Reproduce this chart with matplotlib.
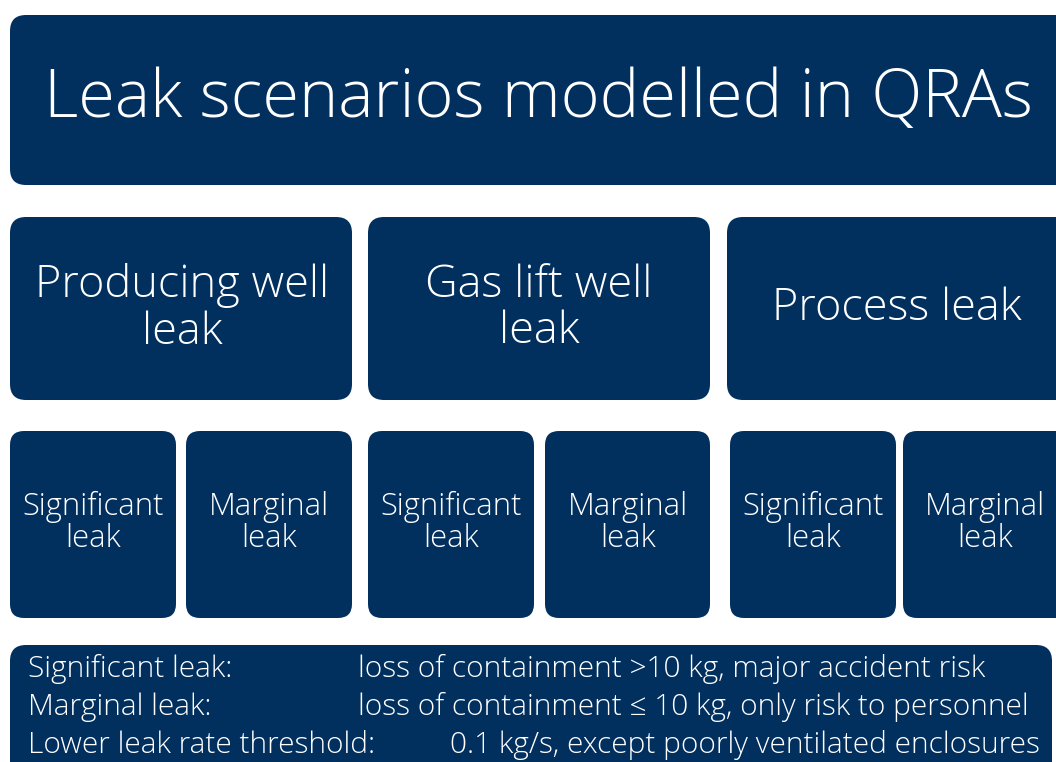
import matplotlib.pyplot as plt
from matplotlib.patches import FancyBboxPatch

NAVY = '#012f5e'
FONT = ['Open Sans', 'DejaVu Sans']
WEIGHT = 'light'

title = 'Leak scenarios modelled in QRAs'
scenarios = ['Producing well\nleak', 'Gas lift well\nleak', 'Process leak']
leak_types = ['Significant\nleak', 'Marginal\nleak']
legend_terms = ['Significant leak:', 'Marginal leak:', 'Lower leak rate threshold:']
legend_defs = ['loss of containment >10 kg, major accident risk',
               'loss of containment \u2264 10 kg, only risk to personnel',
               '0.1 kg/s, except poorly ventilated enclosures']


def box(ax, x0, y0, x1, y1, r=14):
    p = FancyBboxPatch((x0 + r, y0 + r), x1 - x0 - 2 * r, y1 - y0 - 2 * r,
                       boxstyle=f'round,pad={r},rounding_size={r}',
                       fc=NAVY, ec='none')
    ax.add_patch(p)


fig = plt.figure(figsize=(10.56, 7.62), dpi=100)
ax = fig.add_axes([0, 0, 1, 1])
ax.set_xlim(0, 1056)
ax.set_ylim(762, 0)
ax.axis('off')

# title box
box(ax, 10, 15, 1080, 185, r=16)
ax.text(538, 100, title, color='white', fontsize=48, family=FONT,
        weight=WEIGHT, ha='center', va='center')

# scenario boxes
sc_x = [(10, 352), (368, 710), (727, 1080)]
sc_cx = [182, 539, 897]
for (x0, x1), cx, lab in zip(sc_x, sc_cx, scenarios):
    box(ax, x0, 217, x1, 400, r=16)
    ax.text(cx, 309, lab, color='white', fontsize=32.5, family=FONT,
            weight=WEIGHT, ha='center', va='center', linespacing=1.05)

# leak type boxes
lt_x = [(10, 176), (186, 352), (368, 534), (545, 710), (730, 896), (903, 1080)]
lt_cx = [93, 269, 451, 628, 813, 985]
for i, ((x0, x1), cx) in enumerate(zip(lt_x, lt_cx)):
    box(ax, x0, 431, x1, 618, r=14)
    ax.text(cx, 523, leak_types[i % 2], color='white', fontsize=22.3,
            family=FONT, weight=WEIGHT, ha='center', va='center',
            linespacing=0.98)

# definitions box
box(ax, 10, 645, 1052, 800, r=16)
ys = [669, 707, 745]
def_x = [358, 358, 450]
for y, term, d, dx in zip(ys, legend_terms, legend_defs, def_x):
    ax.text(28, y, term, color='white', fontsize=21.5, family=FONT,
            weight=WEIGHT, ha='left', va='center')
    ax.text(dx, y, d, color='white', fontsize=21.5, family=FONT,
            weight=WEIGHT, ha='left', va='center')

fig.savefig('out.png', dpi=100, facecolor='white')
